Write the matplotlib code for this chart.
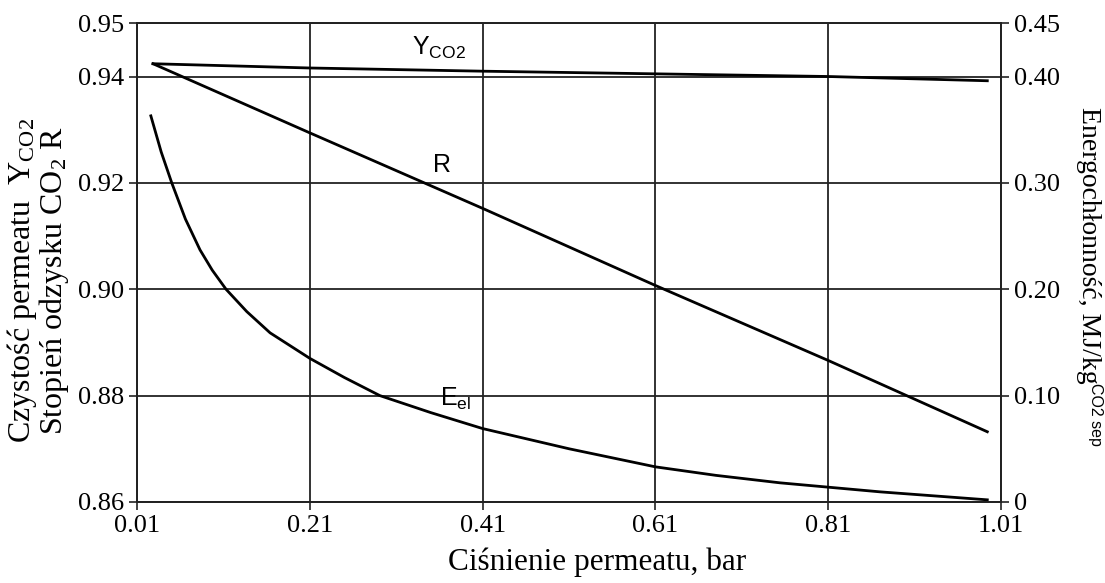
import matplotlib
matplotlib.use("Agg")
import matplotlib.pyplot as plt

plt.rcParams["font.family"] = ["Liberation Serif", "DejaVu Serif"]
plt.rcParams["mathtext.fontset"] = "custom"
plt.rcParams["mathtext.rm"] = "Liberation Serif"
plt.rcParams["mathtext.it"] = "Liberation Serif:italic"
plt.rcParams["mathtext.sf"] = "Liberation Sans"

# Permeate pressure, bar
p_y = [0.0285, 0.21, 0.41, 0.61, 0.81, 0.994]
# CO2 purity of the permeate
y_co2 = [0.9424, 0.9416, 0.9410, 0.9405, 0.9400, 0.9392]
# CO2 recovery
p_r = [0.0285, 0.21, 0.41, 0.61, 0.81, 0.994]
recovery = [0.9424, 0.9294, 0.9152, 0.9007, 0.8866, 0.8732]
# Specific energy demand, MJ/kg CO2 separated
p_e = [0.026, 0.038, 0.0502, 0.066, 0.0829, 0.097, 0.113, 0.137, 0.164,
       0.21, 0.25, 0.291, 0.35, 0.41, 0.51, 0.61, 0.68, 0.754, 0.87, 0.994]
e_el = [0.363, 0.329, 0.300, 0.266, 0.237, 0.218, 0.200, 0.179, 0.159,
        0.135, 0.117, 0.100, 0.084, 0.069, 0.050, 0.033, 0.025, 0.018,
        0.0095, 0.002]

x_ticks = [0.01, 0.21, 0.41, 0.61, 0.81, 1.01]
left_ticks = [0.86, 0.88, 0.90, 0.92, 0.94, 0.95]
right_ticks = [0, 0.10, 0.20, 0.30, 0.40, 0.45]
right_labels = ["0", "0.10", "0.20", "0.30", "0.40", "0.45"]

fig = plt.figure(figsize=(11.05, 5.83), dpi=100)
ax = fig.add_axes([0.124, 0.139, 0.782, 0.821])
ax2 = ax.twinx()

ax.set_xlim(0.01, 1.01)
ax.set_ylim(0.86, 0.95)
ax2.set_ylim(0.0, 0.45)

ax.set_xticks(x_ticks)
ax.set_xticklabels([f"{v:.2f}" for v in x_ticks])
ax.set_yticks(left_ticks)
ax.set_yticklabels([f"{v:.2f}" for v in left_ticks])
ax2.set_yticks(right_ticks)
ax2.set_yticklabels(right_labels)

ax.grid(True, color="#222222", linewidth=1.3)
ax.set_axisbelow(True)

for a in (ax, ax2):
    a.tick_params(direction="out", length=6, width=1.2, labelsize=19, color="#222222")
    for s in a.spines.values():
        s.set_color("#222222")
        s.set_linewidth(1.3)

ax.plot(p_y, y_co2, color="black", lw=2)
ax.plot(p_r, recovery, color="black", lw=2)
ax2.plot(p_e, e_el, color="black", lw=2)

ax.text(0.328, 0.9441, r"$\mathsf{Y_{CO2}}$", fontsize=18, ha="left", va="baseline")
ax.text(0.351, 0.9221, r"$\mathsf{R}$", fontsize=18, ha="left", va="baseline")
ax.text(0.3607, 0.8780, r"$\mathsf{E_{el}}$", fontsize=18, ha="left", va="baseline")

ax.set_xlabel("Ciśnienie permeatu, bar", fontsize=22.5)
ax.xaxis.set_label_coords(0.532, -0.095, transform=ax.transAxes)
ax.xaxis.label.set_va("top")

ax.set_ylabel("Czystość permeatu  Y$_{\\mathrm{CO2}}$\nStopień odzysku CO$_2$ R",
              fontsize=23, linespacing=0.92)
ax.yaxis.set_label_coords(-0.076, 0.462)

# Right-hand label: main text plus a small sans-serif subscript
fig.text(1088 / 1105, 1 - 245 / 583, "Energochłonność, MJ/kg", rotation=270,
         ha="center", va="center", fontsize=20, rotation_mode="anchor")
fig.text(1095 / 1105, 1 - 414 / 583, "CO2 sep", rotation=270,
         ha="center", va="center", fontsize=11.5, family="Liberation Sans",
         rotation_mode="anchor")

fig.savefig("out.png", dpi=100)
